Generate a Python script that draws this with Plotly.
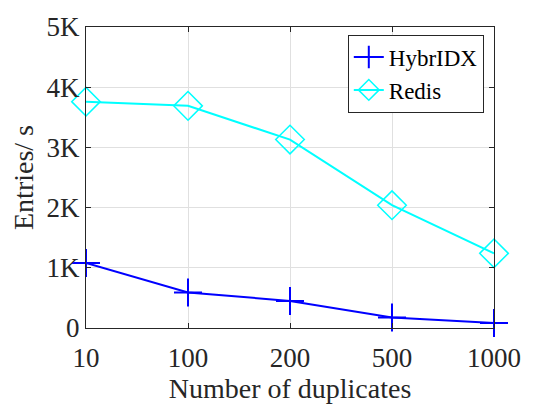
import plotly.graph_objects as go

categories = ["10", "100", "200", "500", "1000"]
hybridx = [1080, 590, 450, 175, 85]
redis = [3760, 3690, 3130, 2040, 1240]
y_ticks = [0, 1000, 2000, 3000, 4000, 5000]
y_tick_labels = ["0", "1K", "2K", "3K", "4K", "5K"]

font_family = "Liberation Serif, Times New Roman, serif"

fig = go.Figure()
fig.add_trace(go.Scatter(
    x=categories, y=hybridx, name="HybrIDX", mode="lines+markers",
    line=dict(color="#0000ff", width=2),
    marker=dict(symbol="cross-thin-open", size=20, line=dict(color="#0000ff", width=2)),
    cliponaxis=False,
))
fig.add_trace(go.Scatter(
    x=categories, y=redis, name="Redis", mode="lines+markers",
    line=dict(color="#00ffff", width=2),
    marker=dict(symbol="diamond-open", size=22, line=dict(color="#00ffff", width=1.5)),
    cliponaxis=False,
))

axis_common = dict(
    showline=True, linecolor="#262626", linewidth=1, mirror="ticks",
    ticks="inside", ticklen=5, tickcolor="#262626",
    showgrid=True, gridcolor="#e0e0e0", gridwidth=1,
    zeroline=False,
    tickfont=dict(family=font_family, size=27, color="#262626"),
)

fig.update_layout(
    width=544, height=405,
    margin=dict(l=86, r=50, t=18, b=74),
    paper_bgcolor="white", plot_bgcolor="white",
    font=dict(family=font_family, color="#262626"),
    xaxis=dict(
        type="category", categoryorder="array", categoryarray=categories,
        range=[0, 4], ticklabelstandoff=6,
        title=dict(text="Number of duplicates", font=dict(family=font_family, size=28, color="#262626"), standoff=0),
        **axis_common,
    ),
    yaxis=dict(
        range=[0, 5000], tickvals=y_ticks, ticktext=y_tick_labels,
        ticklabelstandoff=0,
        title=dict(text="Entries/ s", font=dict(family=font_family, size=28, color="#262626"), standoff=4),
        **axis_common,
    ),
    legend=dict(
        x=0.975, y=0.975, xanchor="right", yanchor="top",
        bgcolor="white", bordercolor="#262626", borderwidth=1,
        font=dict(family=font_family, size=23, color="#000000"),
        tracegroupgap=0, itemwidth=30,
    ),
    showlegend=True,
)

fig.write_html("out.html")
